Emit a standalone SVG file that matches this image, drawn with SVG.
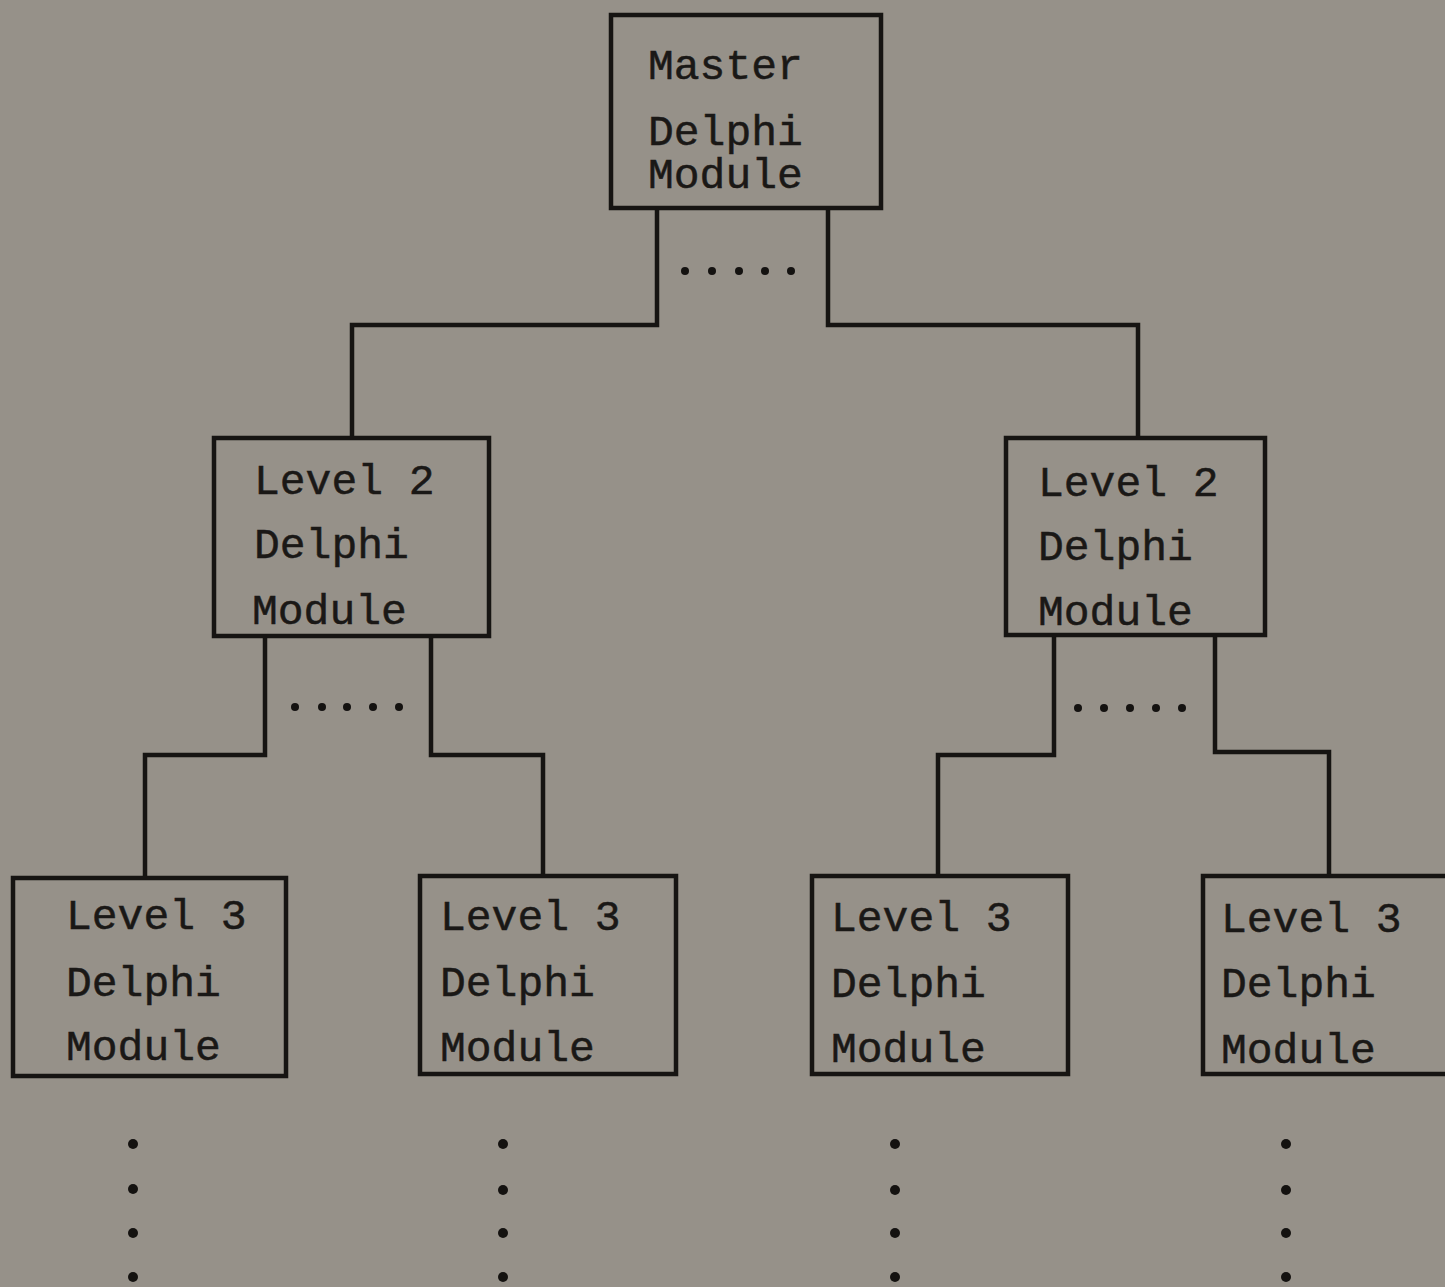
<svg xmlns="http://www.w3.org/2000/svg" width="1445" height="1287" viewBox="0 0 1445 1287">
<style>
.box{fill:none;stroke:#161412;stroke-width:4.5}
.ln{fill:none;stroke:#161412;stroke-width:4.5}
.t{font-family:"Liberation Mono","Courier New",monospace;font-size:43px;fill:#1a1816;stroke:#1a1816;stroke-width:0.5}
.d{fill:#141210}
</style>
<rect width="1445" height="1287" fill="#969189"/>
<g id="connectors">
<polyline class="ln" points="657,208 657,325 352,325 352,438"/>
<polyline class="ln" points="828,208 828,325 1138,325 1138,438"/>
<polyline class="ln" points="265,636 265,755 145,755 145,878"/>
<polyline class="ln" points="431,636 431,755 543,755 543,876"/>
<polyline class="ln" points="1054,635 1054,755 938,755 938,876"/>
<polyline class="ln" points="1215,635 1215,752 1329,752 1329,876"/>
<g class="d">
<circle cx="685" cy="271" r="4"/><circle cx="712" cy="271" r="4"/><circle cx="739" cy="271" r="4"/><circle cx="765" cy="271" r="4"/><circle cx="791" cy="271" r="4"/>
<circle cx="295" cy="707" r="4"/><circle cx="322" cy="707" r="4"/><circle cx="347" cy="707" r="4"/><circle cx="373" cy="707" r="4"/><circle cx="399" cy="707" r="4"/>
<circle cx="1078" cy="708" r="4"/><circle cx="1104" cy="708" r="4"/><circle cx="1130" cy="708" r="4"/><circle cx="1156" cy="708" r="4"/><circle cx="1182" cy="708" r="4"/>
<circle cx="133" cy="1144" r="5"/><circle cx="133" cy="1189" r="5"/><circle cx="133" cy="1233" r="5"/><circle cx="133" cy="1277" r="5"/>
<circle cx="503" cy="1144" r="5"/><circle cx="503" cy="1190" r="5"/><circle cx="503" cy="1233" r="5"/><circle cx="503" cy="1277" r="5"/>
<circle cx="895" cy="1144" r="5"/><circle cx="895" cy="1190" r="5"/><circle cx="895" cy="1233" r="5"/><circle cx="895" cy="1277" r="5"/>
<circle cx="1286" cy="1144" r="5"/><circle cx="1286" cy="1190" r="5"/><circle cx="1286" cy="1233" r="5"/><circle cx="1286" cy="1277" r="5"/>
</g>
</g>
<g id="master">
<rect class="box" x="611" y="15" width="270" height="193"/>
<text class="t" x="648" y="79">Master</text>
<text class="t" x="648" y="145">Delphi</text>
<text class="t" x="648" y="188">Module</text>
</g>
<g id="l2a">
<rect class="box" x="214" y="438" width="275" height="198"/>
<text class="t" x="254" y="494">Level 2</text>
<text class="t" x="254" y="558">Delphi</text>
<text class="t" x="252" y="624">Module</text>
</g>
<g id="l2b">
<rect class="box" x="1006" y="438" width="259" height="197"/>
<text class="t" x="1038" y="496">Level 2</text>
<text class="t" x="1038" y="560">Delphi</text>
<text class="t" x="1038" y="625">Module</text>
</g>
<g id="l3a">
<rect class="box" x="13" y="878" width="273" height="198"/>
<text class="t" x="66" y="929">Level 3</text>
<text class="t" x="66" y="996">Delphi</text>
<text class="t" x="66" y="1060">Module</text>
</g>
<g id="l3b">
<rect class="box" x="420" y="876" width="256" height="198"/>
<text class="t" x="440" y="930">Level 3</text>
<text class="t" x="440" y="996">Delphi</text>
<text class="t" x="440" y="1061">Module</text>
</g>
<g id="l3c">
<rect class="box" x="812" y="876" width="256" height="198"/>
<text class="t" x="831" y="931">Level 3</text>
<text class="t" x="831" y="997">Delphi</text>
<text class="t" x="831" y="1062">Module</text>
</g>
<g id="l3d">
<rect class="box" x="1203" y="876" width="260" height="198"/>
<text class="t" x="1221" y="932">Level 3</text>
<text class="t" x="1221" y="997">Delphi</text>
<text class="t" x="1221" y="1063">Module</text>
</g>
</svg>
